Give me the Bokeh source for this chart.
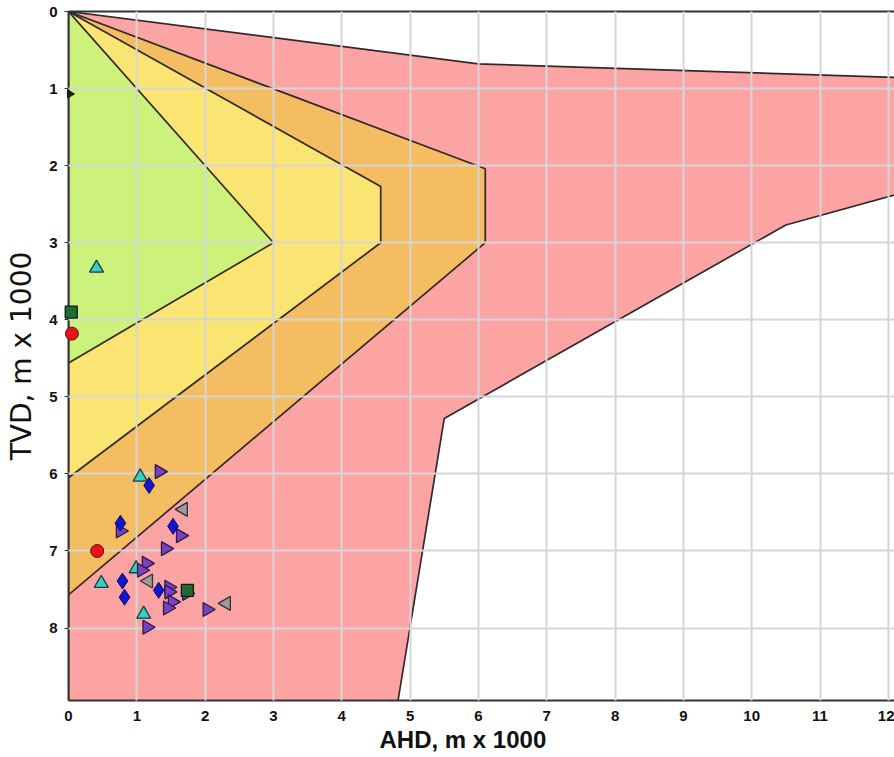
import math
from bokeh.plotting import figure
from bokeh.models import Range1d, LinearAxis, FixedTicker, Title, Grid
from bokeh.embed import file_html
from bokeh.resources import INLINE

# ---- zone boundaries (AHD x1000 m, TVD x1000 m) ----
red_zone_x = [0, 6.0, 13.0, 13.0, 10.5, 5.5, 4.72, 0]
red_zone_y = [0, 0.68, 0.88, 2.16, 2.77, 5.28, 9.5, 9.5]
orange_zone_x = [0, 6.1, 6.1, 0]
orange_zone_y = [0, 2.04, 3.0, 7.57]
yellow_zone_x = [0, 4.57, 4.57, 0]
yellow_zone_y = [0, 2.27, 3.0, 6.05]
green_zone_x = [0, 3.0, 0]
green_zone_y = [0, 3.0, 4.56]

# ---- well points ----
cyan_x = [0.41, 1.05, 0.99, 0.48, 1.10]
cyan_y = [3.33, 6.04, 7.23, 7.42, 7.82]
purple_x = [1.33, 0.76, 1.64, 1.42, 1.14, 1.07, 1.47, 1.47, 1.52, 1.45, 1.73, 2.03, 1.15]
purple_y = [5.97, 6.74, 6.80, 6.97, 7.16, 7.25, 7.47, 7.53, 7.66, 7.74, 7.55, 7.76, 7.99]
blue_x = [1.18, 0.76, 1.53, 0.79, 0.82, 1.32]
blue_y = [6.15, 6.64, 6.68, 7.39, 7.60, 7.51]
gray_x = [1.68, 1.17, 2.31]
gray_y = [6.46, 7.39, 7.68]
red_x = [0.05, 0.42]
red_y = [4.18, 7.00]
green_x = [0.04, 1.74]
green_y = [3.90, 7.51]
black_x = [0.02]
black_y = [1.07]

x_ticks = list(range(0, 13))
y_ticks = list(range(0, 9))

p = figure(width=894, height=757, output_backend="svg", toolbar_location=None,
           x_range=Range1d(0, 12.09), y_range=Range1d(8.94, 0),
           min_border_left=68, min_border_top=11, min_border_right=0, min_border_bottom=57,
           x_axis_location=None, y_axis_location=None)
p.outline_line_color = None
p.background_fill_color = "white"
p.border_fill_color = "white"

edge = "#33292a"
p.patch(red_zone_x, red_zone_y, fill_color="#fca4a4", line_color=edge, line_width=1.7)
p.patch(orange_zone_x, orange_zone_y, fill_color="#f5bd62", line_color=edge, line_width=1.7)
p.patch(yellow_zone_x, yellow_zone_y, fill_color="#fae472", line_color=edge, line_width=1.7)
p.patch(green_zone_x, green_zone_y, fill_color="#cdf27b", line_color=edge, line_width=1.7)

# axes
tick_font = "Liberation Sans"
xax = LinearAxis(ticker=FixedTicker(ticks=x_ticks))
xax.axis_line_color = "#333333"
xax.axis_line_width = 2
xax.major_tick_out = 0
xax.major_tick_in = 0
xax.minor_tick_line_color = None
xax.major_label_standoff = 10
xax.major_label_text_font = tick_font
xax.major_label_text_font_style = "bold"
xax.major_label_text_font_size = "15px"
xax.major_label_text_color = "#111111"
p.add_layout(xax, "below")

yax = LinearAxis(ticker=FixedTicker(ticks=y_ticks))
yax.axis_line_color = "#333333"
yax.axis_line_width = 2
yax.major_tick_out = 4
yax.major_tick_in = 0
yax.major_tick_line_color = "#333333"
yax.minor_tick_line_color = None
yax.major_label_standoff = 7
yax.major_label_text_font = tick_font
yax.major_label_text_font_style = "bold"
yax.major_label_text_font_size = "15px"
yax.major_label_text_color = "#111111"
yax.axis_label = "TVD, m x 1000"
yax.axis_label_text_font = "DejaVu Sans"
yax.axis_label_text_font_style = "normal"
yax.axis_label_text_font_size = "28px"
yax.axis_label_text_color = "#111111"
yax.axis_label_standoff = 8
p.add_layout(yax, "left")

# top frame line with inward ticks, no labels
tax = LinearAxis(ticker=FixedTicker(ticks=x_ticks))
tax.axis_line_color = "#333333"
tax.axis_line_width = 2
tax.major_tick_in = 5
tax.major_tick_out = 0
tax.major_tick_line_color = "#333333"
tax.minor_tick_line_color = None
tax.major_label_text_font_size = "0px"
tax.major_label_text_color = None
tax.major_label_standoff = 0
p.add_layout(tax, "above")

p.add_layout(Title(text="AHD, m x 1000", align="left", offset=311,
                   text_font="Liberation Sans", text_font_style="bold",
                   text_font_size="24px", text_color="#111111", standoff=0), "below")

# grid on top of zones
p.add_layout(Grid(dimension=0, ticker=FixedTicker(ticks=x_ticks),
                  grid_line_color="#d6d6d6", grid_line_width=2, level="annotation"))
p.add_layout(Grid(dimension=1, ticker=FixedTicker(ticks=y_ticks),
                  grid_line_color="#d6d6d6", grid_line_width=2, level="annotation"))

# markers
def pts(**kw):
    r = p.scatter(**kw)
    r.level = "overlay"
    return r

pts(x=cyan_x, y=cyan_y, marker="triangle", size=14, fill_color="#2fd3c6", line_color="#1e3c3a", line_width=1.3)
pts(x=purple_x, y=purple_y, marker="triangle", angle=-math.pi / 2, size=14, fill_color="#7a3fc2", line_color="#2c1b45", line_width=1.3)
pts(x=gray_x, y=gray_y, marker="triangle", angle=math.pi / 2, size=14, fill_color="#9b9b9b", line_color="#333333", line_width=1.3)
pts(x=blue_x, y=blue_y, marker="diamond", size=16, fill_color="#1414d4", line_color="#0a0a60", line_width=1.0)
pts(x=red_x, y=red_y, marker="circle", size=13, fill_color="#e8141c", line_color="#6a0a0a", line_width=1.0)
pts(x=green_x, y=green_y, marker="square", size=12, fill_color="#1f6b33", line_color="#0a200a", line_width=1.3)
pts(x=black_x, y=black_y, marker="triangle", angle=-math.pi / 2, size=8, fill_color="#222222", line_color="#111111")

open("out.html", "w").write(file_html(p, INLINE))
